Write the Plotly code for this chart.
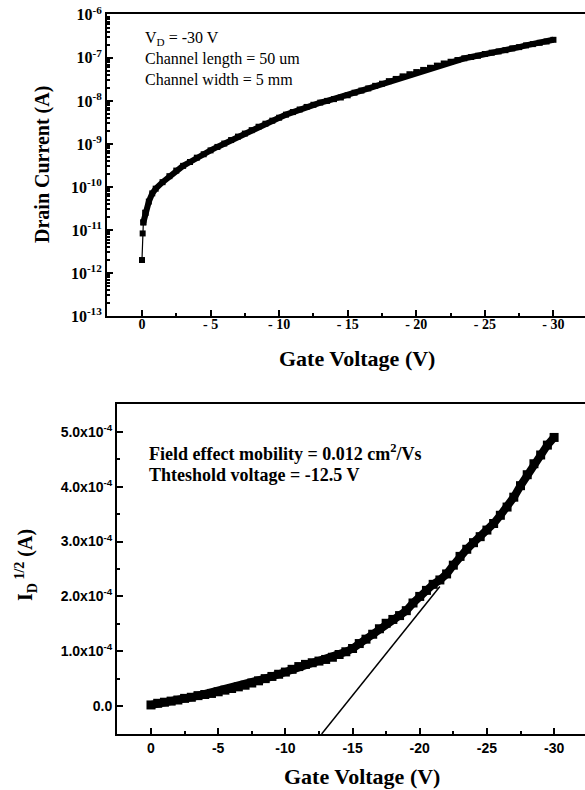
import plotly.graph_objects as go

# ---------------- data: top panel (log drain current) ----------------
gate_v_top = [0, -0.05, -0.1, -0.25, -0.5, -0.75, -1.0, -1.5, -2.0, -2.5, -3.0, -3.5, -4.0, -4.5,
              -5.0, -5.5, -6.0, -6.5, -7.0, -7.5, -8.0, -8.5, -9.0, -9.5, -10.0, -10.5, -11.0,
              -11.5, -12.0, -12.5, -13.0, -13.5, -14.0, -14.5, -15.0, -15.5, -16.0, -16.5, -17.0,
              -17.5, -18.0, -18.5, -19.0, -19.5, -20.0, -20.5, -21.0, -21.5, -22.0, -22.5, -23.0,
              -23.5, -24.0, -24.5, -25.0, -25.5, -26.0, -26.5, -27.0, -27.5, -28.0, -28.5, -29.0,
              -29.5, -30.0]
drain_current = [2.0e-12, 8.3e-12, 1.5e-11, 2.51e-11, 4.57e-11, 7.08e-11, 9.12e-11, 1.29e-10,
                 1.78e-10, 2.40e-10, 3.09e-10, 3.80e-10, 4.79e-10, 5.75e-10, 7.08e-10, 8.51e-10,
                 1.02e-9, 1.23e-9, 1.48e-9, 1.74e-9, 2.09e-9, 2.51e-9, 2.95e-9, 3.47e-9, 4.07e-9,
                 4.79e-9, 5.50e-9, 6.31e-9, 7.24e-9, 8.13e-9, 9.12e-9, 1.00e-8, 1.10e-8, 1.20e-8,
                 1.35e-8, 1.55e-8, 1.74e-8, 1.95e-8, 2.24e-8, 2.51e-8, 2.88e-8, 3.24e-8, 3.72e-8,
                 4.17e-8, 4.68e-8, 5.25e-8, 5.89e-8, 6.61e-8, 7.41e-8, 8.13e-8, 8.91e-8, 9.77e-8,
                 1.05e-7, 1.12e-7, 1.23e-7, 1.32e-7, 1.41e-7, 1.51e-7, 1.66e-7, 1.78e-7, 1.95e-7,
                 2.09e-7, 2.24e-7, 2.40e-7, 2.63e-7]

# ---------------- data: bottom panel (sqrt drain current) ----------------
gate_v_bot = [0, -0.5, -1.0, -1.5, -2.0, -2.5, -3.0, -3.5, -4.0, -4.5, -5.0, -5.5, -6.0, -6.5,
              -7.0, -7.5, -8.0, -8.5, -9.0, -9.5, -10.0, -10.5, -11.0, -11.5, -12.0, -12.5,
              -13.0, -13.5, -14.0, -14.5, -15.0, -15.5, -16.0, -16.5, -17.0, -17.5, -18.0,
              -18.5, -19.0, -19.5, -20.0, -20.5, -21.0, -21.5, -22.0, -22.5, -23.0, -23.5,
              -24.0, -24.5, -25.0, -25.5, -26.0, -26.5, -27.0, -27.5, -28.0, -28.5, -29.0,
              -29.5, -30.0]
sqrt_id = [0.02e-4, 0.05e-4, 0.07e-4, 0.09e-4, 0.11e-4, 0.14e-4, 0.16e-4, 0.19e-4, 0.21e-4,
           0.23e-4, 0.26e-4, 0.29e-4, 0.32e-4, 0.35e-4, 0.38e-4, 0.42e-4, 0.46e-4, 0.50e-4,
           0.54e-4, 0.58e-4, 0.62e-4, 0.67e-4, 0.72e-4, 0.76e-4, 0.79e-4, 0.82e-4, 0.85e-4,
           0.89e-4, 0.94e-4, 0.99e-4, 1.05e-4, 1.14e-4, 1.22e-4, 1.31e-4, 1.41e-4, 1.51e-4,
           1.58e-4, 1.65e-4, 1.74e-4, 1.88e-4, 2.00e-4, 2.11e-4, 2.22e-4, 2.30e-4, 2.41e-4,
           2.57e-4, 2.73e-4, 2.86e-4, 2.98e-4, 3.09e-4, 3.21e-4, 3.33e-4, 3.48e-4, 3.63e-4,
           3.81e-4, 4.02e-4, 4.22e-4, 4.42e-4, 4.58e-4, 4.76e-4, 4.90e-4]

# linear fit line (threshold extrapolation)
fit_v = [-12.7, -21.5]
fit_i = [-0.51e-4, 2.18e-4]

# ---------------- tick labels ----------------
x_tick_vals = [0, -5, -10, -15, -20, -25, -30]
x_tick_text_top = ["0", "- 5", "- 10", "- 15", "- 20", "- 25", "- 30"]
x_tick_text_bot = ["0", "-5", "-10", "-15", "-20", "-25", "-30"]
x_minor_vals = [-2.5, -7.5, -12.5, -17.5, -22.5, -27.5]
log_exponents = [-13, -12, -11, -10, -9, -8, -7, -6]
lin_tick_vals = [0, 1e-4, 2e-4, 3e-4, 4e-4, 5e-4]
lin_tick_text = ["0.0", "1.0x10<sup>-4</sup>", "2.0x10<sup>-4</sup>", "3.0x10<sup>-4</sup>",
                 "4.0x10<sup>-4</sup>", "5.0x10<sup>-4</sup>"]
lin_minor_vals = [-0.5e-4, 0.5e-4, 1.5e-4, 2.5e-4, 3.5e-4, 4.5e-4, 5.5e-4]

W, H = 585, 790
SERIF = "Liberation Serif, Times New Roman, serif"
SANS = "Liberation Sans, Arial, sans-serif"
N_START = 3  # first few isolated points near 0 V

fig = go.Figure()

# isolated start points, thin connecting line
fig.add_trace(go.Scatter(
    x=gate_v_top[:N_START + 1], y=drain_current[:N_START + 1], mode="lines+markers",
    line=dict(color="black", width=1.2),
    marker=dict(symbol="square", size=6, color="black"),
    xaxis="x", yaxis="y", showlegend=False))
# dense band of points
fig.add_trace(go.Scatter(
    x=gate_v_top[N_START - 1:], y=drain_current[N_START - 1:], mode="lines+markers",
    line=dict(color="black", width=6),
    marker=dict(symbol="square", size=6, color="black"),
    xaxis="x", yaxis="y", showlegend=False))

fig.add_trace(go.Scatter(
    x=fit_v, y=fit_i, mode="lines",
    line=dict(color="black", width=1.5),
    xaxis="x2", yaxis="y2", showlegend=False))

fig.add_trace(go.Scatter(
    x=gate_v_bot, y=sqrt_id, mode="lines+markers",
    line=dict(color="black", width=8),
    marker=dict(symbol="square", size=9, color="black"),
    xaxis="x2", yaxis="y2", showlegend=False))

log_minor = [m * 10.0 ** e for e in log_exponents[:-1] for m in range(2, 10)]

axis_common = dict(showline=True, linecolor="black", linewidth=2, showgrid=False,
                   zeroline=False, ticks="inside", tickcolor="black", ticklen=6, tickwidth=1.5,
                   automargin=False)

fig.update_layout(
    width=W, height=H,
    margin=dict(l=0, r=0, t=0, b=0),
    paper_bgcolor="white", plot_bgcolor="white",
    xaxis=dict(domain=[107 / W, 1], anchor="y", range=[2.55, -32.3],
               tickmode="array", tickvals=x_tick_vals, ticktext=x_tick_text_top,
               minor=dict(tickmode="array", tickvals=x_minor_vals, ticks="inside", ticklen=3,
                          tickcolor="black"),
               mirror=True, ticklabelstandoff=-6,
               tickfont=dict(family=SERIF, size=14, color="black", weight="bold"),
               **axis_common),
    yaxis=dict(domain=[1 - 316 / H, 1 - 14 / H], anchor="x", type="log",
               range=[-13.0, -5.98],
               tickmode="array", tickvals=[10.0 ** e for e in log_exponents],
               ticktext=["10<sup>%d</sup>" % e for e in log_exponents],
               minor=dict(tickmode="array", tickvals=log_minor, ticks="inside", ticklen=3,
                          tickcolor="black"),
               tickfont=dict(family=SERIF, size=16, color="black", weight="bold"),
               **axis_common),
    xaxis2=dict(domain=[117 / W, 1], anchor="y2", range=[2.53, -32.3],
                tickmode="array", tickvals=x_tick_vals, ticktext=x_tick_text_bot,
                minor=dict(tickmode="array", tickvals=x_minor_vals, ticks="inside", ticklen=3,
                           tickcolor="black"),
                mirror=True,
                tickfont=dict(family=SANS, size=14, color="black", weight="bold"),
                **axis_common),
    yaxis2=dict(domain=[1 - 734 / H, 1 - 404 / H], anchor="x2",
                range=[-0.51e-4, 5.51e-4],
                tickmode="array", tickvals=lin_tick_vals, ticktext=lin_tick_text,
                minor=dict(tickmode="array", tickvals=lin_minor_vals, ticks="inside", ticklen=3,
                           tickcolor="black"),
                tickfont=dict(family=SANS, size=14, color="black", weight="bold"),
                **axis_common),
)

def ann(text, px, py, size, family, bold=False, angle=0, xanchor="center"):
    fig.add_annotation(
        text=text, xref="paper", yref="paper", x=px / W, y=1 - py / H,
        xanchor=xanchor, yanchor="middle", showarrow=False, textangle=angle,
        font=dict(family=family, size=size, color="black", weight="bold" if bold else "normal"))

# text inside panels
ann("V<sub>D</sub> = -30 V", 143, 38, 16, SERIF, xanchor="left")
ann("Channel length = 50 um", 143, 59, 16, SERIF, xanchor="left")
ann("Channel width = 5 mm", 143, 80, 16, SERIF, xanchor="left")
ann("Field effect mobility = 0.012 cm<sup>2</sup>/Vs", 147, 452, 18, SERIF, bold=True,
    xanchor="left")
ann("Thteshold voltage = -12.5 V", 147, 475, 18, SERIF, bold=True, xanchor="left")

# axis titles
ann("Gate Voltage (V)", 357, 358, 22, SERIF, bold=True)
ann("Drain Current (A)", 42, 165, 20, SERIF, bold=True, angle=-90)
ann("Gate Voltage (V)", 362, 776, 22, SERIF, bold=True)
ann("I<sub>D</sub><sup> 1/2</sup> (A)", 26, 565, 20, SERIF, bold=True, angle=-90)

fig.write_html(
    "out.html",
    config={"displayModeBar": False},
    post_script="document.body.style.margin='0px';document.body.style.overflow='hidden';",
)
